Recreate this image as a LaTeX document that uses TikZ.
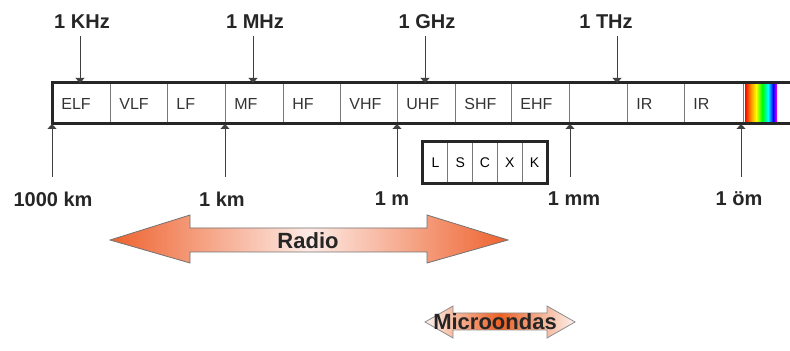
\documentclass[tikz,border=0pt]{standalone}
\usepackage{fontspec}
\setmainfont{Liberation Sans}
\usetikzlibrary{arrows.meta}

\definecolor{radioend}{RGB}{238,98,46}
\definecolor{radiomid}{RGB}{253,234,228}
\definecolor{microend}{RGB}{253,242,238}
\definecolor{micromid}{RGB}{236,96,36}
\definecolor{cellline}{RGB}{120,120,120}

\tikzset{
  bandlabel/.style={font=\fontsize{8}{9}\selectfont, anchor=west, inner sep=0pt, text=black!80},
  scalelabel/.style={font=\bfseries\fontsize{10}{12}\selectfont, text=black!85},
  tick/.style={-{Triangle[length=2.5pt,width=4.5pt]}, line width=0.5pt, black!75},
  bandbox/.style={draw=cellline, line width=0.5pt, minimum width=12.4pt, minimum height=20.5pt,
    inner sep=0pt, font=\fontsize{7}{8}\selectfont},
  edge/.style={line width=1.5pt, black!85}
}

\begin{document}
\begin{tikzpicture}[x=0.5pt,y=-0.5pt]
\useasboundingbox (0,0) rectangle (790,351);

% bands
\foreach \l/\t [count=\i] in {52/ELF, 110/VLF, 167/LF, 225/MF, 283/HF, 340/VHF,
    397/UHF, 455/SHF, 511/EHF, 569/{}, 627/IR, 684/IR}
  \node[bandlabel] (band\i) at (\l+9,104) {\t};
\foreach \x in {110,167,225,283,340,397,455,511,569,627,684,743}
  \draw[cellline, line width=0.5pt] (\x,83) -- (\x,124);

% visible light
\foreach \a/\b/\ca/\cb in {745/750/red/orange, 750/756/orange/yellow, 756/762/yellow/green,
    762/768/green/cyan, 768/773/cyan/blue, 773/777/blue/magenta}
  \shade[left color=\ca, right color=\cb] (\a,84) rectangle (\b,123);

\draw[edge] (790,83) -- (52,83) -- (52,124) -- (790,124);

% frequencies
\node[scalelabel] (khz) at (82,22) {1 KHz};
\node[scalelabel] (mhz) at (255,22) {1 MHz};
\node[scalelabel] (ghz) at (427,22) {1 GHz};
\node[scalelabel] (thz) at (606,22) {1 THz};
\coordinate (fkhz) at (80,83);
\coordinate (fmhz) at (253,83);
\coordinate (fghz) at (425,83);
\coordinate (fthz) at (617,83);
\foreach \f in {khz,mhz,ghz,thz}
  \draw[tick] (\f.south -| f\f) -- (f\f);

% wavelengths
\node[scalelabel] (km1000) at (53,199) {1000 km};
\node[scalelabel] (km1) at (222,199) {1 km};
\node[scalelabel] (m1) at (392,199) {1 m};
\node[scalelabel] (mm1) at (574,199) {1 mm};
\node[scalelabel] (um1) at (739,199) {1 öm};
\coordinate (wkm1000) at (52,124);
\coordinate (wkm1) at (225,124);
\coordinate (wm1) at (397,124);
\coordinate (wmm1) at (570,124);
\coordinate (wum1) at (741,124);
\foreach \w in {km1000,km1,m1,mm1,um1}
  \draw[tick, shorten <=4pt] (\w.north -| w\w) -- (w\w);

% microwave bands
\foreach \t [count=\i] in {L,S,C,X,K}
  \node[bandbox] (mw\i) at (423+24.8*\i-12.4,162.5) {\t};
\draw[edge] (mw1.north west) rectangle (mw5.south east);

% Radio
\shade[draw=black!55, line width=0.4pt, left color=radioend, right color=radioend, middle color=radiomid]
  (110,240) -- (190,215) -- (190,228) -- (427,228) -- (427,215) -- (508,240)
  -- (427,263) -- (427,252) -- (190,252) -- (190,263) -- cycle;
\node[font=\bfseries\fontsize{11}{13}\selectfont, text=black!85] (radio) at (308,241) {Radio};

% Microondas
\shade[draw=black!45, line width=0.4pt, left color=microend, right color=microend, middle color=micromid]
  (425,322) -- (453,306) -- (453,313) -- (547,313) -- (547,306) -- (575,322)
  -- (547,338) -- (547,330) -- (453,330) -- (453,338) -- cycle;
\node[font=\bfseries\fontsize{11}{13}\selectfont, text=black!85] (micro) at (495,322) {Microondas};
\end{tikzpicture}
\end{document}
